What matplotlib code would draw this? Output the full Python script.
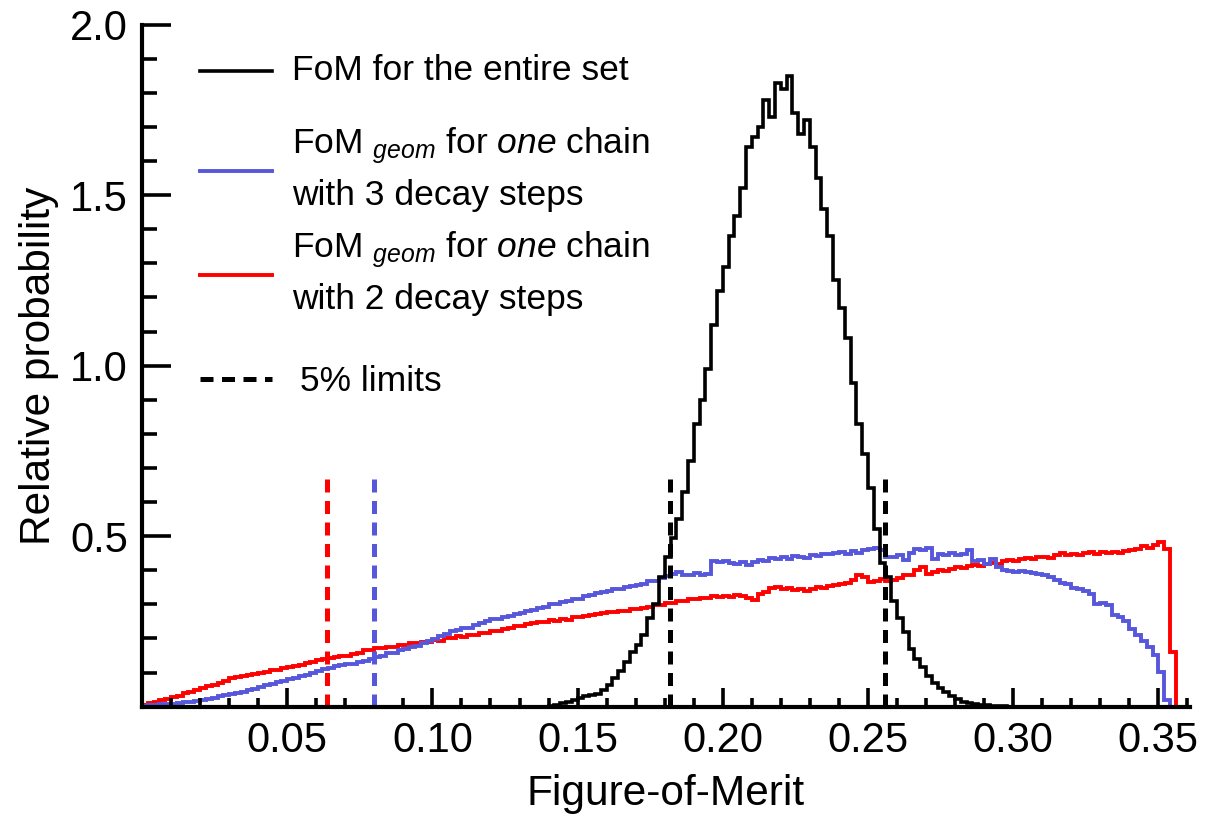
import numpy as np
import matplotlib
matplotlib.use('Agg')
from matplotlib import pyplot as plt
from matplotlib.ticker import MultipleLocator, FixedLocator

plt.rcParams['font.family'] = ['Liberation Sans', 'DejaVu Sans']
plt.rcParams['mathtext.fontset'] = 'custom'
plt.rcParams['mathtext.rm'] = 'Liberation Sans'
plt.rcParams['mathtext.it'] = 'Liberation Sans:italic'

# bin edges (Figure-of-Merit)
edges_chain = np.arange(0, 0.3561, 0.002)   # 178 bins, 0 .. 0.356
edges_set = np.arange(0.140, 0.2981, 0.002)  # 79 bins, 0.140 .. 0.298

# FoM for the entire set
fom_set = [0.003, 0.006, 0.010, 0.014, 0.020, 0.026, 0.030, 0.033, 0.038, 0.050,
           0.065, 0.085, 0.105, 0.130, 0.160, 0.180, 0.210, 0.260, 0.300, 0.380,
           0.440, 0.495, 0.550, 0.630, 0.720, 0.830, 0.900, 0.990, 1.120, 1.220,
           1.290, 1.380, 1.440, 1.520, 1.640, 1.670, 1.700, 1.780, 1.730, 1.830,
           1.810, 1.850, 1.740, 1.680, 1.720, 1.640, 1.550, 1.460, 1.380, 1.250,
           1.170, 1.080, 0.950, 0.830, 0.740, 0.640, 0.520, 0.420, 0.380, 0.310,
           0.260, 0.220, 0.170, 0.140, 0.115, 0.090, 0.070, 0.055, 0.042, 0.030,
           0.022, 0.015, 0.011, 0.008, 0.006, 0.004, 0.003, 0.002, 0.001]

# FoM_geom, one chain with 3 decay steps
fom_3steps = [0.002, 0.004, 0.005, 0.007, 0.008, 0.009, 0.011, 0.013, 0.015, 0.018,
              0.020, 0.023, 0.027, 0.030, 0.034, 0.037, 0.041, 0.044, 0.048, 0.053,
              0.058, 0.063, 0.066, 0.073, 0.076, 0.082, 0.084, 0.089, 0.094, 0.098,
              0.104, 0.111, 0.114, 0.120, 0.121, 0.125, 0.126, 0.132, 0.134, 0.141,
              0.146, 0.149, 0.157, 0.158, 0.166, 0.168, 0.176, 0.179, 0.188, 0.192,
              0.199, 0.208, 0.212, 0.222, 0.224, 0.230, 0.231, 0.240, 0.244, 0.252,
              0.256, 0.258, 0.263, 0.266, 0.273, 0.276, 0.282, 0.283, 0.290, 0.293,
              0.300, 0.302, 0.307, 0.309, 0.316, 0.317, 0.324, 0.327, 0.334, 0.336,
              0.340, 0.346, 0.345, 0.352, 0.353, 0.358, 0.360, 0.368, 0.370, 0.378,
              0.382, 0.388, 0.394, 0.387, 0.385, 0.391, 0.386, 0.390, 0.428, 0.424,
              0.426, 0.420, 0.418, 0.423, 0.416, 0.425, 0.430, 0.427, 0.436, 0.434,
              0.438, 0.433, 0.442, 0.440, 0.437, 0.446, 0.441, 0.449, 0.447, 0.451,
              0.453, 0.449, 0.456, 0.450, 0.458, 0.463, 0.466, 0.459, 0.440, 0.438,
              0.445, 0.431, 0.452, 0.462, 0.458, 0.466, 0.432, 0.448, 0.445, 0.450,
              0.444, 0.447, 0.460, 0.428, 0.430, 0.418, 0.432, 0.410, 0.401, 0.398,
              0.396, 0.399, 0.395, 0.391, 0.389, 0.386, 0.380, 0.372, 0.362, 0.360,
              0.348, 0.345, 0.338, 0.330, 0.300, 0.304, 0.298, 0.270, 0.262, 0.251,
              0.228, 0.210, 0.192, 0.175, 0.152, 0.103, 0.020, 0.0]

# FoM_geom, one chain with 2 decay steps
fom_2steps = [0.006, 0.012, 0.015, 0.021, 0.024, 0.029, 0.032, 0.039, 0.043, 0.050,
              0.054, 0.061, 0.063, 0.070, 0.074, 0.083, 0.086, 0.091, 0.092, 0.097,
              0.100, 0.102, 0.107, 0.108, 0.113, 0.115, 0.120, 0.121, 0.128, 0.131,
              0.138, 0.140, 0.144, 0.145, 0.150, 0.150, 0.155, 0.158, 0.165, 0.167,
              0.172, 0.171, 0.175, 0.176, 0.181, 0.181, 0.186, 0.187, 0.191, 0.191,
              0.195, 0.194, 0.200, 0.201, 0.206, 0.204, 0.209, 0.210, 0.216, 0.217,
              0.222, 0.223, 0.229, 0.230, 0.236, 0.237, 0.243, 0.244, 0.249, 0.248,
              0.253, 0.252, 0.256, 0.255, 0.262, 0.263, 0.267, 0.268, 0.273, 0.274,
              0.278, 0.277, 0.282, 0.281, 0.286, 0.285, 0.290, 0.292, 0.297, 0.298,
              0.303, 0.304, 0.309, 0.310, 0.316, 0.315, 0.320, 0.319, 0.324, 0.322,
              0.325, 0.323, 0.328, 0.326, 0.318, 0.312, 0.331, 0.337, 0.348, 0.350,
              0.345, 0.347, 0.341, 0.344, 0.340, 0.346, 0.351, 0.349, 0.355, 0.358,
              0.360, 0.364, 0.372, 0.386, 0.380, 0.367, 0.370, 0.373, 0.369, 0.372,
              0.378, 0.385, 0.387, 0.400, 0.411, 0.388, 0.394, 0.401, 0.398, 0.405,
              0.411, 0.407, 0.413, 0.416, 0.412, 0.418, 0.421, 0.417, 0.426, 0.431,
              0.428, 0.434, 0.435, 0.432, 0.438, 0.440, 0.436, 0.446, 0.450, 0.444,
              0.447, 0.445, 0.451, 0.455, 0.449, 0.453, 0.450, 0.455, 0.452, 0.456,
              0.460, 0.463, 0.470, 0.466, 0.475, 0.484, 0.462, 0.161]

# 5% limits
limit_2steps = 0.0637
limit_3steps = 0.0798
limits_set = [0.1817, 0.2559]
limit_height = 0.68

BLUE = '#5757dc'
RED = '#ff0000'

fig = plt.figure(figsize=(12.19, 8.23), dpi=100)
ax = fig.add_axes([0.1165, 0.1413, 0.8597, 0.8289])

ax.stairs(fom_2steps, edges_chain, baseline=0, color=RED, lw=2.8)
ax.stairs(fom_3steps, edges_chain, baseline=0, color=BLUE, lw=2.8)
ax.stairs(fom_set, edges_set, baseline=0, color='black', lw=2.6)

dash = (2.6, 1.7)
ax.plot([limit_2steps] * 2, [0, limit_height], color=RED, lw=3.6, dashes=dash)
ax.plot([limit_3steps] * 2, [0, limit_height], color=BLUE, lw=3.6, dashes=dash)
for xl in limits_set:
    ax.plot([xl, xl], [0, limit_height], color='black', lw=3.6, dashes=dash)

ax.set_xlim(0, 0.3609)
ax.set_ylim(0, 2.0)

for side in ['top', 'right']:
    ax.spines[side].set_visible(False)
for side in ['left', 'bottom']:
    ax.spines[side].set_linewidth(3)

ax.xaxis.set_major_locator(FixedLocator([0.05, 0.10, 0.15, 0.20, 0.25, 0.30, 0.35]))
ax.xaxis.set_minor_locator(MultipleLocator(0.01))
ax.yaxis.set_major_locator(FixedLocator([0.5, 1.0, 1.5, 2.0]))
ax.yaxis.set_minor_locator(MultipleLocator(0.1))
ax.set_xticklabels(['0.05', '0.10', '0.15', '0.20', '0.25', '0.30', '0.35'])
ax.set_yticklabels(['0.5', '1.0', '1.5', '2.0'])

ax.tick_params(axis='x', which='major', direction='in', length=14, width=2.6,
               labelsize=30, pad=10)
ax.tick_params(axis='x', which='minor', direction='in', length=6.5, width=2.6)
ax.tick_params(axis='y', which='major', direction='in', length=21, width=2.6,
               labelsize=30, pad=10)
ax.tick_params(axis='y', which='minor', direction='in', length=11, width=2.6)

ax.set_xlabel('Figure-of-Merit', fontsize=30.5, labelpad=10)
ax.set_ylabel('Relative probability', fontsize=30.5, labelpad=8)

# legend, drawn by hand in figure pixels (y from top)
W, H = 1219, 823
def fx(px):
    return px / W
def fy(py):
    return 1 - py / H

lx0, lx1, tx = 200, 272, 292
fs = 25.5
fig.add_artist(plt.Line2D([fx(lx0), fx(lx1)], [fy(71), fy(71)], color='black', lw=2.6))
fig.text(fx(tx), fy(70), 'FoM for the entire set', fontsize=fs, va='center')

fig.add_artist(plt.Line2D([fx(lx0), fx(lx1)], [fy(171), fy(171)], color=BLUE, lw=2.8))
fig.text(fx(tx), fy(146), r'FoM $_{\mathit{geom}}$ for $\mathit{one}$ chain', fontsize=fs, va='center')
fig.text(fx(tx), fy(196), 'with 3 decay steps', fontsize=fs, va='center')

fig.add_artist(plt.Line2D([fx(lx0), fx(lx1)], [fy(275), fy(275)], color=RED, lw=2.8))
fig.text(fx(tx), fy(250), r'FoM $_{\mathit{geom}}$ for $\mathit{one}$ chain', fontsize=fs, va='center')
fig.text(fx(tx), fy(300), 'with 2 decay steps', fontsize=fs, va='center')

fig.add_artist(plt.Line2D([fx(lx0), fx(lx1)], [fy(379), fy(379)], color='black', lw=3.6,
                          dashes=dash))
fig.text(fx(300), fy(381), '5% limits', fontsize=fs, va='center')

fig.savefig('out.png', dpi=100)
